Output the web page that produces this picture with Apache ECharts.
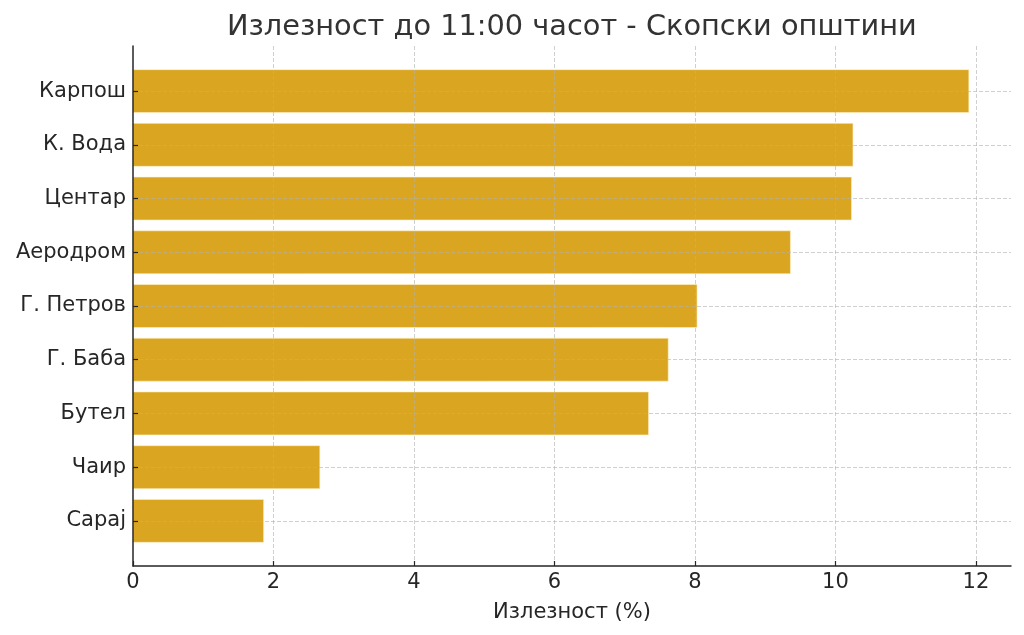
<!DOCTYPE html>
<html>
<head>
<meta charset="utf-8">
<script src="https://cdn.jsdelivr.net/npm/echarts@6/dist/echarts.min.js"></script>
<style>html,body{margin:0;padding:0;background:#fff}#c{width:1024px;height:635px}</style>
</head>
<body>
<div id="c"></div>
<script>
const categories = ['Карпош', 'К. Вода', 'Центар', 'Аеродром', 'Г. Петров', 'Г. Баба', 'Бутел', 'Чаир', 'Сарај'];
const turnout = [11.90, 10.25, 10.23, 9.36, 8.03, 7.62, 7.34, 2.66, 1.86];
const xTicks = [0, 2, 4, 6, 8, 10, 12];

const FONT = 'DejaVu Sans';
const chart = echarts.init(document.getElementById('c'), null, {renderer: 'canvas'});
const data = turnout.map((v, i) => [i, v]);
const gridLine = {show: true, showMinLine: false, showMaxLine: false,
  lineStyle: {color: 'rgba(176,176,176,0.6)', width: 1, type: [4, 2]}};

chart.setOption({
  backgroundColor: '#fff',
  animation: false,
  title: {
    text: 'Излезност до 11:00 часот - Скопски општини',
    left: 222, top: 8,
    textStyle: {fontFamily: FONT, fontSize: 28.8, fontWeight: 'normal', color: '#333'}
  },
  grid: {left: 133, right: 13, top: 46, bottom: 69},
  xAxis: {
    type: 'value', min: 0, max: 12.5, splitNumber: 6, minInterval: 2, maxInterval: 2,
    name: 'Излезност (%)', nameLocation: 'middle', nameGap: 36,
    nameTextStyle: {fontFamily: FONT, fontSize: 21, color: '#262626'},
    axisLine: {show: true, onZero: false, lineStyle: {color: '#262626', width: 1.5}},
    axisTick: {show: true, inside: true, length: 5, lineStyle: {color: '#262626', width: 1.2}},
    axisLabel: {fontFamily: FONT, fontSize: 21, color: '#262626', margin: 6, showMaxLabel: false,
      formatter: v => xTicks.includes(v) ? String(v) : ''},
    splitLine: gridLine
  },
  yAxis: {
    type: 'value', min: -0.84, max: 8.84, inverse: true, splitNumber: 10, minInterval: 1, maxInterval: 1,
    axisLine: {show: true, onZero: false, lineStyle: {color: '#262626', width: 1.5}},
    axisTick: {show: true, inside: true, length: 5, lineStyle: {color: '#262626', width: 1.2}},
    axisLabel: {fontFamily: FONT, fontSize: 21, color: '#262626', margin: 7, showMinLabel: false, showMaxLabel: false,
      formatter: v => (Number.isInteger(v) && v >= 0 && v < categories.length) ? categories[v] : ''},
    splitLine: gridLine
  },
  series: [{
    type: 'custom',
    z: -1,
    encode: {x: 1, y: 0},
    data: data,
    renderItem: function (params, api) {
      const idx = api.value(0), val = api.value(1);
      const s = api.coord([0, idx]);
      const e = api.coord([val, idx]);
      const h = api.size([0, 0.8])[1];
      return {
        type: 'rect',
        shape: {x: s[0], y: s[1] - h / 2, width: e[0] - s[0], height: h},
        style: {fill: '#DAA520', stroke: 'rgba(255,240,200,0.6)', lineWidth: 1}
      };
    }
  }]
});
</script>
</body>
</html>
